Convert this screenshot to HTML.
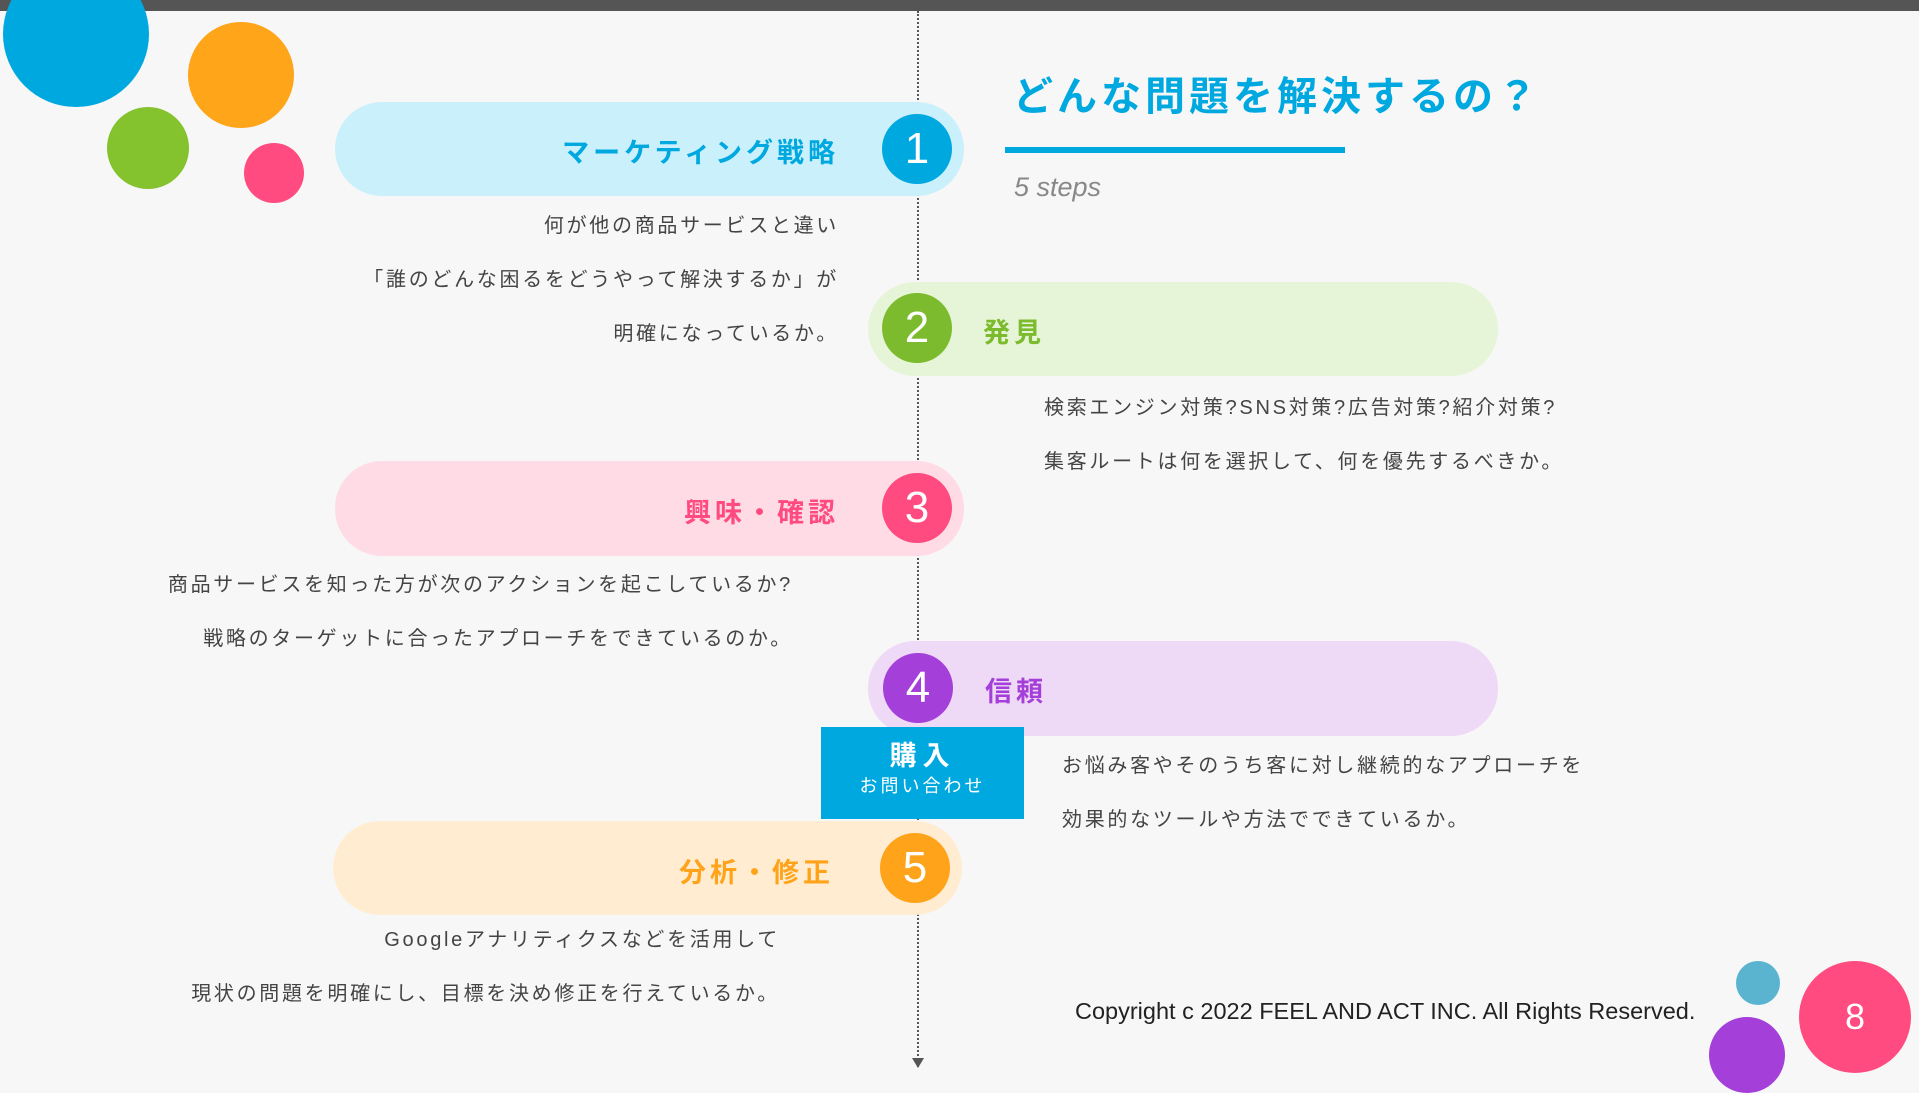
<!DOCTYPE html>
<html><head><meta charset="utf-8"><style>
*{margin:0;padding:0;box-sizing:border-box}
body{width:1919px;height:1080px;background:#f7f7f7;position:relative;overflow:hidden;font-family:"Liberation Sans","Noto Sans CJK JP",sans-serif}
.a{position:absolute}
.c{position:absolute;border-radius:50%}
.pill{position:absolute;border-radius:47px}
.num{position:absolute;border-radius:50%;color:#fff;font-size:44px;text-align:center;line-height:70px;width:70px;height:70px}
.lab{position:absolute;font-size:27px;letter-spacing:4px;font-weight:bold;white-space:nowrap}
.d{position:absolute;font-size:20px;letter-spacing:2.7px;color:#444;white-space:nowrap;line-height:54px}
</style></head><body>
<div class="a" style="left:0;top:0;width:1919px;height:11px;background:#555"></div>
<div class="c" style="left:3px;top:-39px;width:146px;height:146px;background:#00a8e0"></div>
<div class="c" style="left:188px;top:22px;width:106px;height:106px;background:#ffa51a"></div>
<div class="c" style="left:107px;top:107px;width:82px;height:82px;background:#84c22e"></div>
<div class="c" style="left:244px;top:143px;width:60px;height:60px;background:#ff4b7f"></div>

<div class="a" style="left:917px;top:11px;height:1056px;border-left:2px dotted #555"></div>
<div class="a" style="left:912px;top:1058px;width:0;height:0;border-left:6px solid transparent;border-right:6px solid transparent;border-top:10px solid #555"></div>

<div class="pill" style="left:335px;top:102px;width:629px;height:94px;background:#c9f0fb"></div>
<div class="pill" style="left:868px;top:282px;width:630px;height:94px;background:#e6f5d7"></div>
<div class="pill" style="left:335px;top:461px;width:629px;height:95px;background:#ffdbe6"></div>
<div class="pill" style="left:868px;top:641px;width:630px;height:95px;background:#eed9f7"></div>
<div class="pill" style="left:333px;top:821px;width:629px;height:94px;background:#ffecd1"></div>

<div class="a" style="left:821px;top:727px;width:203px;height:92px;background:#00a8e0;color:#fff;text-align:center">
<div style="font-size:27px;font-weight:bold;letter-spacing:6px;margin-top:12px;line-height:34px">購入</div>
<div style="font-size:18px;letter-spacing:3px;line-height:26px">お問い合わせ</div></div>

<div class="num" style="left:882px;top:114px;background:#00a8e0">1</div>
<div class="num" style="left:882px;top:293px;background:#7dbb2e">2</div>
<div class="num" style="left:882px;top:473px;background:#ff4b7f">3</div>
<div class="num" style="left:883px;top:653px;background:#a53fd9">4</div>
<div class="num" style="left:880px;top:833px;background:#ffa31a">5</div>

<div class="lab" style="right:1080px;top:131px;color:#00a8e0">マーケティング戦略</div>
<div class="lab" style="left:983px;top:311px;color:#7dbb2e">発見</div>
<div class="lab" style="right:1080px;top:491px;color:#ff4b7f">興味・確認</div>
<div class="lab" style="left:985px;top:670px;color:#a53fd9">信頼</div>
<div class="lab" style="right:1085px;top:851px;color:#ffa31a">分析・修正</div>

<div class="a" style="left:1013px;top:64px;font-size:40px;letter-spacing:4px;color:#00a8e0;font-weight:bold;white-space:nowrap">どんな問題を解決するの？</div>
<div class="a" style="left:1005px;top:147px;width:340px;height:6px;background:#00a8e0"></div>
<div class="a" style="left:1014px;top:172px;font-size:27px;font-style:italic;color:#888">5 steps</div>

<div class="d" style="right:1080px;top:199px;text-align:right">何が他の商品サービスと違い<br>「誰のどんな困るをどうやって解決するか」が<br>明確になっているか。</div>
<div class="d" style="left:1044px;top:381px">検索エンジン対策?SNS対策?広告対策?紹介対策?<br>集客ルートは何を選択して、何を優先するべきか。</div>
<div class="d" style="right:1126px;top:558px;text-align:right">商品サービスを知った方が次のアクションを起こしているか?<br>戦略のターゲットに合ったアプローチをできているのか。</div>
<div class="d" style="left:1062px;top:739px">お悩み客やそのうち客に対し継続的なアプローチを<br>効果的なツールや方法でできているか。</div>
<div class="d" style="right:1139px;top:913px;text-align:right">Googleアナリティクスなどを活用して<br>現状の問題を明確にし、目標を決め修正を行えているか。</div>

<div class="a" style="left:1075px;top:998px;font-size:23.5px;color:#222;white-space:nowrap">Copyright c 2022 FEEL AND ACT INC. All Rights Reserved.</div>
<div class="c" style="left:1736px;top:961px;width:44px;height:44px;background:#5ab4d0"></div>
<div class="c" style="left:1709px;top:1017px;width:76px;height:76px;background:#a53fd9"></div>
<div class="c" style="left:1799px;top:961px;width:112px;height:112px;background:#ff4b7f;color:#fff;font-size:36px;text-align:center;line-height:112px">8</div>
</body></html>
